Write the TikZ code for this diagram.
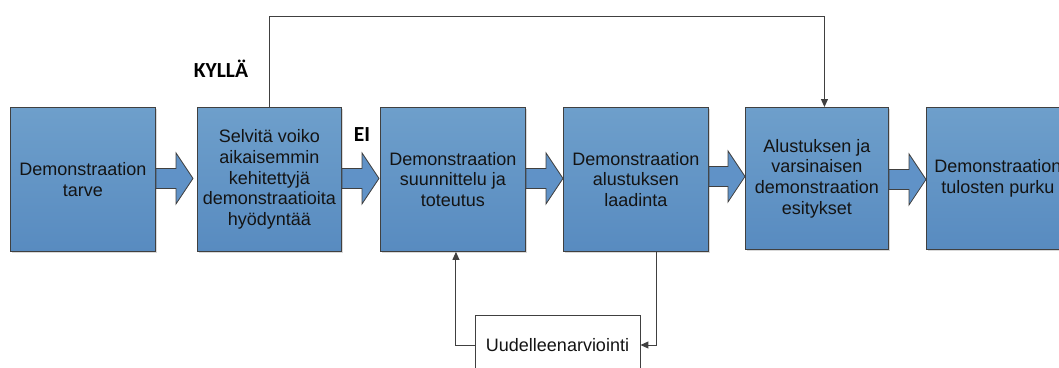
\documentclass[tikz,border=0pt]{standalone}
\usepackage{fontspec}
\setmainfont{Liberation Sans}
\newfontfamily\labelfont{Carlito}
\usetikzlibrary{arrows.meta,calc,shadows}

\definecolor{boxtop}{RGB}{110,159,203}
\definecolor{boxbot}{RGB}{88,139,192}
\definecolor{edge}{RGB}{64,64,64}
\definecolor{arrowfill}{RGB}{96,146,199}
\definecolor{ink}{RGB}{20,20,20}

% block arrows between steps: \flowarrow{from}{to}{gap before tip}{vertical offset}
\newcommand\flowarrow[4]{%
  \path[blockarrow] let \p1=($(#1.east)+(0,#4)$), \p2=($(#2.west)+(-#3,#4)$) in
    (\x1,\y1+10pt) -- (\x2-17pt,\y1+10pt) -- (\x2-17pt,\y1+25.5pt) -- (\x2,\y1)
    -- (\x2-17pt,\y1-25.5pt) -- (\x2-17pt,\y1-10pt) -- (\x1,\y1-10pt) -- cycle;}

\begin{document}
\begin{tikzpicture}[x=1pt,y=-1pt,
  stepbox/.style={draw=edge, line width=0.9pt, top color=boxtop, bottom color=boxbot,
    minimum height=144pt, anchor=north west, align=center, text=ink,
    inner sep=0pt, font=\fontsize{18}{20.6}\selectfont,
    drop shadow={shadow xshift=2pt, shadow yshift=-2pt, opacity=0.3, fill=gray}},
  notebox/.style={draw=edge, line width=0.9pt, fill=white, align=center, text=ink,
    inner sep=0pt, font=\fontsize{18}{20.6}\selectfont},
  answer/.style={text=black, font=\labelfont\bfseries\fontsize{21.5}{22}\selectfont, inner sep=0pt},
  blockarrow/.style={draw=edge, line width=0.8pt, fill=arrowfill, line join=miter},
  conn/.style={draw=edge, line width=1pt, -{Triangle[length=8pt,width=7pt]}}
]
\useasboundingbox (0,0) rectangle (1059,367);
\clip (0,0) rectangle (1059,367);

% process steps
\node[stepbox, minimum width=145pt] (b1) at (10,107) {Demonstraation\\tarve};
\node[stepbox, minimum width=144pt] (b2) at (197,107) {Selvitä voiko\\aikaisemmin\\kehitettyjä\\demonstraatioita\\hyödyntää};
\node[stepbox, minimum width=145pt] (b3) at (380,107) {Demonstraation\\suunnittelu ja\\toteutus};
\node[stepbox, minimum width=145pt] (b4) at (563,107) {Demonstraation\\alustuksen\\laadinta};
\node[stepbox, minimum width=143pt, minimum height=142pt] (b5) at (745,107) {Alustuksen ja\\varsinaisen\\demonstraation\\esitykset};
\node[stepbox, minimum width=143pt, minimum height=142pt] (b6) at (926,107) {Demonstraation\\tulosten purku};

% re-evaluation loop box
\node[notebox, minimum width=165pt, minimum height=60pt] (re) at (557.5,345) {Uudelleenarviointi};

\flowarrow{b1}{b2}{4}{-1}
\flowarrow{b2}{b3}{1}{-1}
\flowarrow{b3}{b4}{0}{-1}
\flowarrow{b4}{b5}{0}{-3}
\flowarrow{b5}{b6}{0}{1}

% decision answers
\node[answer] (yes) at (221,69) {KYLLÄ};
\node[answer] (no) at (362,135) {EI};

% connectors
\draw[conn] (b2.north) -- ($(b2.north)+(0,-91)$) -| ($(b5.north)+(7.5,0)$);
\draw[conn] ($(b4.south)+(20.5,0)$) |- (re.east);
\draw[conn] (re.west) -| ($(b3.south)+(3,0)$);
\end{tikzpicture}
\end{document}
